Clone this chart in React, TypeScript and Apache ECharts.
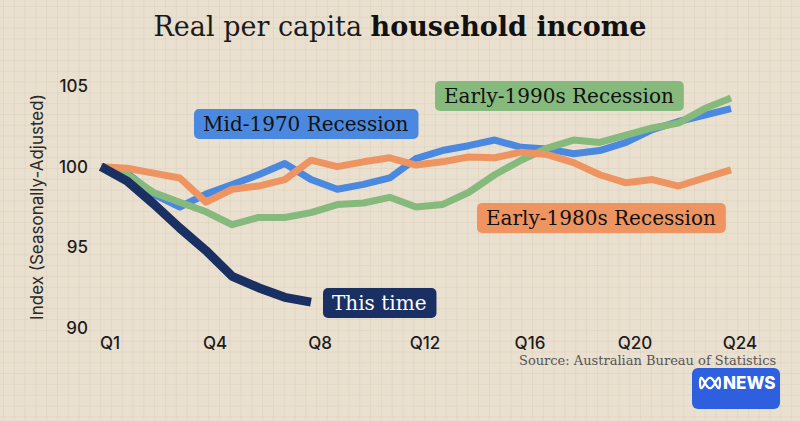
import { useEffect, useRef } from "react";
import * as echarts from "echarts";

const quarters = [0, 1, 2, 3, 4, 5, 6, 7, 8, 9, 10, 11, 12, 13, 14, 15, 16, 17, 18, 19, 20, 21, 22, 23, 24];
const xTickLabels = ["Q1", "Q4", "Q8", "Q12", "Q16", "Q20", "Q24"];
const yTicks = [90, 95, 100, 105];

const mid1970 = [100, 99.6, 98.3, 97.5, 98.3, 98.9, 99.5, 100.2, 99.2, 98.6, 98.9, 99.3, 100.5, 101.0, 101.3, 101.65, 101.2, 101.1, 100.8, 101.0, 101.5, 102.3, 102.8, 103.2, 103.6];
const early1990s = [100, 99.5, 98.4, 97.8, 97.2, 96.4, 96.85, 96.85, 97.15, 97.65, 97.75, 98.1, 97.5, 97.65, 98.4, 99.5, 100.4, 101.15, 101.65, 101.5, 101.95, 102.4, 102.7, 103.6, 104.25];
const early1980s = [100, 99.9, 99.6, 99.3, 97.8, 98.6, 98.8, 99.2, 100.4, 100.0, 100.3, 100.55, 100.1, 100.3, 100.6, 100.55, 100.9, 100.75, 100.25, 99.5, 99.0, 99.2, 98.8, 99.3, 99.8];
const thisTime = [100, 99.1, 97.7, 96.2, 94.8, 93.2, 92.5, 91.9, 91.6];

const seriesNames = ["Mid-1970 Recession", "Early-1990s Recession", "Early-1980s Recession", "This time"];
const colors = ["#4a89df", "#86ba7c", "#ee9461", "#1a3063"];

const SERIF = "'DejaVu Serif', serif";
const SANS = "Inter, 'Noto Sans', sans-serif";

function pairs(vals: number[]) {
  return vals.map((v, i) => [quarters[i], v]);
}

function logoPoints(cx: number, cy: number) {
  const pts: number[][] = [];
  for (let k = 0; k <= 120; k++) {
    const t = (k / 120) * Math.PI * 2;
    pts.push([cx + 10 * Math.sin(t), cy + 5.2 * Math.cos(3 * t)]);
  }
  return pts;
}

export default function App() {
  const ref = useRef<HTMLDivElement>(null);
  useEffect(() => {
    document.body.style.margin = "0";
    const chart = echarts.init(ref.current!, undefined, { renderer: "svg" });
    const lineSeries = (name: string, vals: number[], color: string, width: number) => ({
      name,
      type: "line",
      data: pairs(vals),
      showSymbol: false,
      symbol: "none",
      lineStyle: { color, width, cap: "butt", join: "round" },
      z: 2,
    });
    const boxLabel = (x: number, y: number, text: string, bg: string, fg: string) => ({
      type: "text",
      left: x,
      top: y,
      z: 10,
      style: {
        text,
        fill: fg,
        font: `400 20px ${SERIF}`,
        backgroundColor: bg,
        padding: [5, 10, 5, 9],
        borderRadius: 5,
      },
    });
    chart.setOption({
      animation: false,
      backgroundColor: "transparent",
      grid: { left: 101, right: 69, top: 86, bottom: 93 },
      xAxis: {
        type: "value",
        min: 0,
        max: 24,
        interval: 4,
        axisLine: { show: false },
        axisTick: { show: false },
        splitLine: { show: false },
        axisLabel: {
          formatter: (v: number) => xTickLabels[Math.round(v / 4)] ?? "",
          color: "#1c1c1c",
          fontFamily: SANS,
          fontWeight: 500,
          fontSize: 17,
          lineHeight: 17,
          margin: 6,
          padding: [0, 0, 0, 18],
        },
      },
      yAxis: {
        type: "value",
        min: yTicks[0],
        max: yTicks[yTicks.length - 1],
        interval: 5,
        name: "Index (Seasonally-Adjusted)",
        nameLocation: "middle",
        nameGap: 56,
        nameTextStyle: { color: "#2a2a2a", fontFamily: SANS, fontSize: 17 },
        axisLine: { show: false },
        axisTick: { show: false },
        splitLine: { show: false },
        axisLabel: {
          color: "#1c1c1c",
          fontFamily: SANS,
          fontWeight: 500,
          fontSize: 17,
          margin: 13,
        },
      },
      series: [
        lineSeries(seriesNames[0], mid1970, colors[0], 7),
        lineSeries(seriesNames[1], early1990s, colors[1], 7),
        lineSeries(seriesNames[2], early1980s, colors[2], 7),
        lineSeries(seriesNames[3], thisTime, colors[3], 9),
      ],
      graphic: [
        {
          type: "text",
          left: "center",
          top: 13,
          style: {
            text: "{a|Real per capita }{b|household income}",
            rich: {
              a: { font: `400 27px ${SERIF}`, fill: "#1a1a1a" },
              b: { font: `700 27px ${SERIF}`, fill: "#111" },
            },
          },
        },
        boxLabel(194, 109, seriesNames[0], colors[0], "#111"),
        boxLabel(435, 81, seriesNames[1], colors[1], "#111"),
        boxLabel(477, 203, seriesNames[2], colors[2], "#111"),
        boxLabel(323, 288, seriesNames[3], colors[3], "#fff"),
        {
          type: "text",
          left: 519,
          top: 354,
          style: {
            text: "Source: Australian Bureau of Statistics",
            fill: "#555",
            font: `400 13px ${SERIF}`,
          },
        },
        {
          type: "rect",
          shape: { x: 692, y: 368, width: 88, height: 41, r: 6 },
          style: { fill: "#2e5fdf" },
        },
        {
          type: "polyline",
          shape: { points: logoPoints(710, 383) },
          style: { stroke: "#fff", lineWidth: 2.2, fill: "none" },
        },
        {
          type: "text",
          x: 723,
          y: 374,
          style: { text: "NEWS", fill: "#fff", font: `800 17px ${SANS}` },
        },
      ],
    });
    return () => chart.dispose();
  }, []);
  return (
    <div
      ref={ref}
      style={{
        width: 800,
        height: 421,
        backgroundColor: "#eae0d0",
        backgroundImage:
          "linear-gradient(to right, rgba(200,180,150,0.2) 1px, transparent 1px), linear-gradient(to bottom, rgba(200,180,150,0.2) 1px, transparent 1px)",
        backgroundSize: "10.8px 10.8px",
        backgroundPosition: "3px 6px",
      }}
    />
  );
}
